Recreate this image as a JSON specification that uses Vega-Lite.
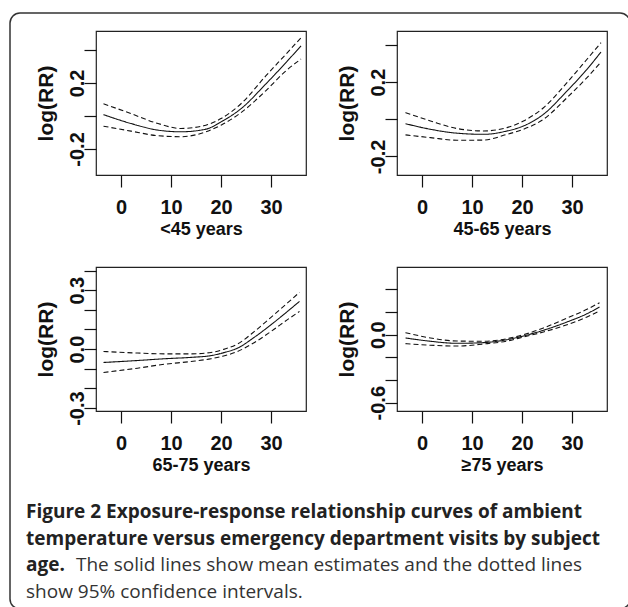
{
  "$schema": "https://vega.github.io/schema/vega-lite/v6.json",
  "padding": {"left": 9, "top": 12, "right": 0, "bottom": 0},
  "autosize": {"type": "pad"},
  "background": "white",
  "config": {
    "view": {"stroke": "#222", "strokeWidth": 1.2},
    "axis": {
      "grid": false,
      "domain": false,
      "tickColor": "#111",
      "tickSize": 12,
      "tickWidth": 1.2,
      "labelColor": "#111",
      "titleColor": "#111",
      "labelFont": "Liberation Sans",
      "titleFont": "Liberation Sans",
      "labelFontWeight": "bold",
      "titleFontWeight": "bold",
      "labelFontSize": 20,
      "titleFontSize": 18
    },
    "axisX": {"labelPadding": 10, "titlePadding": 3},
    "axisY": {"labelAngle": -90, "labelAlign": "center", "labelBaseline": "alphabetic", "labelPadding": 1, "titlePadding": 11, "titleFontSize": 21}
  },
  "datasets": {
    "p1": [
      {"t": -3.5, "s": "mean", "v": 0.008}, {"t": 2, "s": "mean", "v": -0.046}, {"t": 7.4, "s": "mean", "v": -0.086}, {"t": 12, "s": "mean", "v": -0.096}, {"t": 17, "s": "mean", "v": -0.08}, {"t": 20, "s": "mean", "v": -0.036}, {"t": 24, "s": "mean", "v": 0.044}, {"t": 29, "s": "mean", "v": 0.195}, {"t": 33, "s": "mean", "v": 0.324}, {"t": 36, "s": "mean", "v": 0.425},
      {"t": -3.5, "s": "upper", "v": 0.074}, {"t": 2, "s": "upper", "v": 0.014}, {"t": 7.4, "s": "upper", "v": -0.046}, {"t": 12, "s": "upper", "v": -0.076}, {"t": 17, "s": "upper", "v": -0.056}, {"t": 20, "s": "upper", "v": -0.016}, {"t": 24, "s": "upper", "v": 0.074}, {"t": 29, "s": "upper", "v": 0.244}, {"t": 33, "s": "upper", "v": 0.375}, {"t": 36, "s": "upper", "v": 0.474},
      {"t": -3.5, "s": "lower", "v": -0.062}, {"t": 2, "s": "lower", "v": -0.092}, {"t": 7.4, "s": "lower", "v": -0.12}, {"t": 12, "s": "lower", "v": -0.126}, {"t": 17, "s": "lower", "v": -0.096}, {"t": 20, "s": "lower", "v": -0.056}, {"t": 24, "s": "lower", "v": 0.02}, {"t": 29, "s": "lower", "v": 0.154}, {"t": 33, "s": "lower", "v": 0.274}, {"t": 36, "s": "lower", "v": 0.345}
    ],
    "p2": [
      {"t": -3.3, "s": "mean", "v": -0.024}, {"t": 1.7, "s": "mean", "v": -0.054}, {"t": 7, "s": "mean", "v": -0.075}, {"t": 12.3, "s": "mean", "v": -0.081}, {"t": 17, "s": "mean", "v": -0.063}, {"t": 20.3, "s": "mean", "v": -0.036}, {"t": 24.3, "s": "mean", "v": 0.027}, {"t": 29, "s": "mean", "v": 0.152}, {"t": 33, "s": "mean", "v": 0.269}, {"t": 35.8, "s": "mean", "v": 0.362},
      {"t": -3.3, "s": "upper", "v": 0.036}, {"t": 1.7, "s": "upper", "v": -0.009}, {"t": 7, "s": "upper", "v": -0.05}, {"t": 12.3, "s": "upper", "v": -0.063}, {"t": 17, "s": "upper", "v": -0.045}, {"t": 20.3, "s": "upper", "v": -0.009}, {"t": 24.3, "s": "upper", "v": 0.062}, {"t": 29, "s": "upper", "v": 0.197}, {"t": 33, "s": "upper", "v": 0.323}, {"t": 35.8, "s": "upper", "v": 0.412},
      {"t": -3.3, "s": "lower", "v": -0.084}, {"t": 1.7, "s": "lower", "v": -0.099}, {"t": 7, "s": "lower", "v": -0.113}, {"t": 12.3, "s": "lower", "v": -0.112}, {"t": 17, "s": "lower", "v": -0.081}, {"t": 20.3, "s": "lower", "v": -0.054}, {"t": 24.3, "s": "lower", "v": 0.0}, {"t": 29, "s": "lower", "v": 0.116}, {"t": 33, "s": "lower", "v": 0.224}, {"t": 35.8, "s": "lower", "v": 0.308}
    ],
    "p3": [
      {"t": -3.5, "s": "mean", "v": -0.068}, {"t": 3.3, "s": "mean", "v": -0.058}, {"t": 8.7, "s": "mean", "v": -0.049}, {"t": 14, "s": "mean", "v": -0.042}, {"t": 18, "s": "mean", "v": -0.033}, {"t": 20.7, "s": "mean", "v": -0.017}, {"t": 23.3, "s": "mean", "v": 0.005}, {"t": 26.7, "s": "mean", "v": 0.061}, {"t": 30, "s": "mean", "v": 0.124}, {"t": 33.3, "s": "mean", "v": 0.192}, {"t": 35.7, "s": "mean", "v": 0.243},
      {"t": -3.5, "s": "upper", "v": -0.012}, {"t": 3.3, "s": "upper", "v": -0.02}, {"t": 8.7, "s": "upper", "v": -0.024}, {"t": 14, "s": "upper", "v": -0.024}, {"t": 18, "s": "upper", "v": -0.017}, {"t": 20.7, "s": "upper", "v": 0.0}, {"t": 23.3, "s": "upper", "v": 0.026}, {"t": 26.7, "s": "upper", "v": 0.09}, {"t": 30, "s": "upper", "v": 0.162}, {"t": 33.3, "s": "upper", "v": 0.235}, {"t": 35.7, "s": "upper", "v": 0.289},
      {"t": -3.5, "s": "lower", "v": -0.119}, {"t": 3.3, "s": "lower", "v": -0.097}, {"t": 8.7, "s": "lower", "v": -0.077}, {"t": 14, "s": "lower", "v": -0.063}, {"t": 18, "s": "lower", "v": -0.049}, {"t": 20.7, "s": "lower", "v": -0.034}, {"t": 23.3, "s": "lower", "v": -0.012}, {"t": 26.7, "s": "lower", "v": 0.034}, {"t": 30, "s": "lower", "v": 0.09}, {"t": 33.3, "s": "lower", "v": 0.15}, {"t": 35.7, "s": "lower", "v": 0.192}
    ],
    "p4": [
      {"t": -3.3, "s": "mean", "v": -0.029}, {"t": 1.7, "s": "mean", "v": -0.058}, {"t": 7, "s": "mean", "v": -0.076}, {"t": 12.3, "s": "mean", "v": -0.07}, {"t": 17, "s": "mean", "v": -0.044}, {"t": 20.3, "s": "mean", "v": -0.011}, {"t": 24.3, "s": "mean", "v": 0.039}, {"t": 29, "s": "mean", "v": 0.112}, {"t": 33, "s": "mean", "v": 0.185}, {"t": 35.5, "s": "mean", "v": 0.244},
      {"t": -3.3, "s": "upper", "v": 0.018}, {"t": 1.7, "s": "upper", "v": -0.029}, {"t": 7, "s": "upper", "v": -0.056}, {"t": 12.3, "s": "upper", "v": -0.058}, {"t": 17, "s": "upper", "v": -0.035}, {"t": 20.3, "s": "upper", "v": 0.0}, {"t": 24.3, "s": "upper", "v": 0.059}, {"t": 29, "s": "upper", "v": 0.147}, {"t": 33, "s": "upper", "v": 0.224}, {"t": 35.5, "s": "upper", "v": 0.282},
      {"t": -3.3, "s": "lower", "v": -0.079}, {"t": 1.7, "s": "lower", "v": -0.093}, {"t": 7, "s": "lower", "v": -0.1}, {"t": 12.3, "s": "lower", "v": -0.082}, {"t": 17, "s": "lower", "v": -0.056}, {"t": 20.3, "s": "lower", "v": -0.02}, {"t": 24.3, "s": "lower", "v": 0.024}, {"t": 29, "s": "lower", "v": 0.088}, {"t": 33, "s": "lower", "v": 0.156}, {"t": 35.5, "s": "lower", "v": 0.209}
    ],
    "caption": [
      {"x": -70, "y": 15, "txt": "Figure 2 Exposure-response relationship curves of ambient", "w": "bold"},
      {"x": -70, "y": 42, "txt": "temperature versus emergency department visits by subject", "w": "bold"},
      {"x": -70, "y": 68, "txt": "age.", "w": "bold"},
      {"x": -20, "y": 68, "txt": "The solid lines show mean estimates and the dotted lines", "w": "normal"},
      {"x": -70, "y": 95, "txt": "show 95% confidence intervals.", "w": "normal"}
    ],
    "frame": [
      {"x": -86, "x2": 534, "y": -490, "y2": 106}
    ]
  },
  "columns": 2,
  "bounds": "flush",
  "spacing": {"row": 92, "column": 91},
  "concat": [
    {
      "width": 210, "height": 144,
      "data": {"name": "p1"},
      "mark": {"type": "line", "interpolate": "monotone", "color": "#111", "strokeWidth": 1.1},
      "encoding": {
        "x": {"field": "t", "type": "quantitative", "scale": {"domain": [-5, 37], "nice": false, "zero": false}, "axis": {"values": [0, 10, 20, 30], "title": "<45 years"}},
        "y": {"field": "v", "type": "quantitative", "scale": {"domain": [-0.358, 0.515], "nice": false, "zero": false}, "axis": {"values": [-0.2, 0, 0.2, 0.4], "format": ".1f", "labelExpr": "(datum.value == 0.2 || datum.value == -0.2) ? replace(datum.label, '−', '-') : ''", "title": "log(RR)"}},
        "detail": {"field": "s"},
        "strokeDash": {"field": "s", "type": "nominal", "scale": {"domain": ["mean", "lower", "upper"], "range": [[1, 0], [5, 3], [5, 3]]}, "legend": null}
      }
    },
    {
      "width": 210, "height": 144,
      "data": {"name": "p2"},
      "mark": {"type": "line", "interpolate": "monotone", "color": "#111", "strokeWidth": 1.1},
      "encoding": {
        "x": {"field": "t", "type": "quantitative", "scale": {"domain": [-5, 37], "nice": false, "zero": false}, "axis": {"values": [0, 10, 20, 30], "title": "45-65 years"}},
        "y": {"field": "v", "type": "quantitative", "scale": {"domain": [-0.3, 0.475], "nice": false, "zero": false}, "axis": {"values": [-0.2, 0, 0.2, 0.4], "format": ".1f", "labelExpr": "(datum.value == 0.2 || datum.value == -0.2) ? replace(datum.label, '−', '-') : ''", "title": "log(RR)"}},
        "detail": {"field": "s"},
        "strokeDash": {"field": "s", "type": "nominal", "scale": {"domain": ["mean", "lower", "upper"], "range": [[1, 0], [5, 3], [5, 3]]}, "legend": null}
      }
    },
    {
      "width": 210, "height": 144,
      "data": {"name": "p3"},
      "mark": {"type": "line", "interpolate": "monotone", "color": "#111", "strokeWidth": 1.1},
      "encoding": {
        "x": {"field": "t", "type": "quantitative", "scale": {"domain": [-5, 37], "nice": false, "zero": false}, "axis": {"values": [0, 10, 20, 30], "title": "65-75 years"}},
        "y": {"field": "v", "type": "quantitative", "scale": {"domain": [-0.315, 0.418], "nice": false, "zero": false}, "axis": {"values": [-0.3, -0.2, -0.1, 0, 0.1, 0.2, 0.3, 0.4], "format": ".1f", "labelExpr": "(abs(datum.value - 0.3) < 0.001 || abs(datum.value) < 0.001 || abs(datum.value + 0.3) < 0.001) ? replace(datum.label, '−', '-') : ''", "title": "log(RR)"}},
        "detail": {"field": "s"},
        "strokeDash": {"field": "s", "type": "nominal", "scale": {"domain": ["mean", "lower", "upper"], "range": [[1, 0], [5, 3], [5, 3]]}, "legend": null}
      }
    },
    {
      "width": 210, "height": 144,
      "data": {"name": "p4"},
      "mark": {"type": "line", "interpolate": "monotone", "color": "#111", "strokeWidth": 1.1},
      "encoding": {
        "x": {"field": "t", "type": "quantitative", "scale": {"domain": [-5, 37], "nice": false, "zero": false}, "axis": {"values": [0, 10, 20, 30], "title": "≥75 years"}},
        "y": {"field": "v", "type": "quantitative", "scale": {"domain": [-0.673, 0.597], "nice": false, "zero": false}, "axis": {"values": [-0.6, -0.4, -0.2, 0, 0.2, 0.4], "format": ".1f", "labelExpr": "(abs(datum.value) < 0.001 || abs(datum.value + 0.6) < 0.001) ? replace(datum.label, '−', '-') : ''", "title": "log(RR)"}},
        "detail": {"field": "s"},
        "strokeDash": {"field": "s", "type": "nominal", "scale": {"domain": ["mean", "lower", "upper"], "range": [[1, 0], [5, 3], [5, 3]]}, "legend": null}
      }
    },
    {
      "width": 210, "height": 100,
      "view": {"stroke": null},
      "layer": [
        {
          "data": {"name": "frame"},
          "mark": {"type": "rect", "fillOpacity": 0, "fill": "white", "stroke": "#333", "strokeWidth": 1.5, "cornerRadius": 10},
          "encoding": {
            "x": {"field": "x", "type": "quantitative", "scale": {"domain": [0, 210], "nice": false, "zero": false}, "axis": null},
            "x2": {"field": "x2"},
            "y": {"field": "y", "type": "quantitative", "scale": {"domain": [0, 100], "nice": false, "zero": false, "reverse": true}, "axis": null},
            "y2": {"field": "y2"}
          }
        },
        {
          "data": {"name": "caption"},
          "transform": [{"filter": "datum.w == 'bold'"}],
          "mark": {"type": "text", "align": "left", "baseline": "alphabetic", "font": "Open Sans", "fontSize": 19, "fontWeight": "bold", "color": "#222"},
          "encoding": {
            "x": {"field": "x", "type": "quantitative", "scale": {"domain": [0, 210], "nice": false, "zero": false}, "axis": null},
            "y": {"field": "y", "type": "quantitative", "scale": {"domain": [0, 100], "nice": false, "zero": false, "reverse": true}, "axis": null},
            "text": {"field": "txt"}
          }
        },
        {
          "data": {"name": "caption"},
          "transform": [{"filter": "datum.w == 'normal'"}],
          "mark": {"type": "text", "align": "left", "baseline": "alphabetic", "font": "Open Sans", "fontSize": 19, "fontWeight": "normal", "color": "#333"},
          "encoding": {
            "x": {"field": "x", "type": "quantitative", "scale": {"domain": [0, 210], "nice": false, "zero": false}, "axis": null},
            "y": {"field": "y", "type": "quantitative", "scale": {"domain": [0, 100], "nice": false, "zero": false, "reverse": true}, "axis": null},
            "text": {"field": "txt"}
          }
        }
      ]
    }
  ]
}
